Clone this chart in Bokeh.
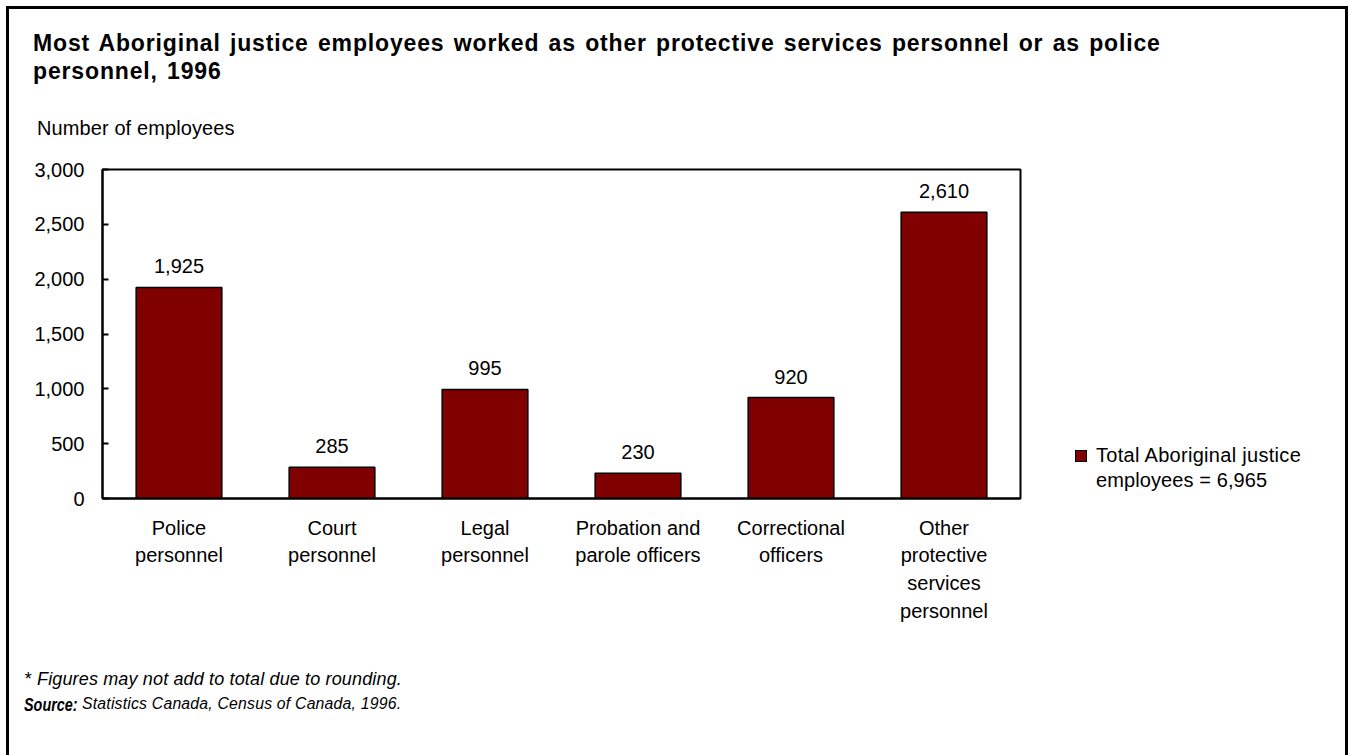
from bokeh.plotting import figure
from bokeh.models import (FactorRange, Range1d, FixedTicker, NumeralTickFormatter,
                          ColumnDataSource, Div)
from bokeh.layouts import column, row
from bokeh.core.properties import value
from bokeh.embed import file_html
from bokeh.resources import INLINE

# ---- data ----
categories = ["Police\npersonnel", "Court\npersonnel", "Legal\npersonnel",
              "Probation and\nparole officers", "Correctional\nofficers",
              "Other\nprotective\nservices\npersonnel"]
employees = [1925, 285, 995, 230, 920, 2610]
y_ticks = [0, 500, 1000, 1500, 2000, 2500, 3000]
legend_lines = ["Total Aboriginal justice", "employees = 6,965"]
title_lines = ["Most Aboriginal justice employees worked as other protective services personnel or as police",
               "personnel, 1996"]
y_title = "Number of employees"
note_text = "Figures may not add to total due to rounding."
source_label = "Source:"
source_text = "Statistics Canada, Census of Canada, 1996."

FONT = "Liberation Sans"
BAR = "#800000"

W = 1349
TOP_H = 145          # height of the heading block
FIG_H = 495          # height of the chart block
BOT_H = 755 - TOP_H - FIG_H
FRAME_TOP, FRAME_BOTTOM = 169, 498   # page y of plot frame
FRAME_LEFT, FRAME_RIGHT = 102, 1020
FIG_W = FRAME_RIGHT + 10
LEG_W = W - FIG_W


def line_div(text, left, center, size, extra=""):
    lh = 28
    return (f'<div style="position:absolute;left:{left}px;top:{center - lh / 2}px;'
            f'height:{lh}px;line-height:{lh}px;font-size:{size}px;white-space:nowrap;{extra}">'
            f'{text}</div>')


base = "font-family:'Liberation Sans',Arial,sans-serif;color:#000;position:relative;"
tstyle = "font-weight:bold;word-spacing:2px;letter-spacing:0.85px;"

top_html = (f'<div style="{base}width:{W}px;height:{TOP_H}px;">'
            + line_div(title_lines[0], 33, 43, 23, tstyle)
            + line_div(title_lines[1], 33, 71, 23, tstyle)
            + line_div(y_title, 37, 128, 20, "letter-spacing:0.1px;")
            + '</div>')

b0 = TOP_H + FIG_H
bot_html = (f'<div style="{base}width:{W}px;height:{BOT_H}px;">'
            + line_div("*", 24, 679 - b0, 18, "font-style:italic;")
            + line_div(note_text, 37, 679 - b0, 18, "font-style:italic;letter-spacing:0.15px;")
            + line_div(f'<span style="display:inline-block;transform:scaleX(0.8);'
                       f'transform-origin:left center;">{source_label}</span>',
                       24, 705 - b0, 18, "font-style:italic;font-weight:bold;")
            + line_div(source_text, 82, 704 - b0, 15.8, "font-style:italic;letter-spacing:0.2px;")
            + '</div>')

leg_html = (f'<div style="{base}width:{LEG_W}px;height:{FIG_H}px;">'
            + f'<div style="position:absolute;left:{1075 - FIG_W}px;top:{450 - TOP_H}px;'
              f'width:12px;height:12px;background:{BAR};border:1px solid #000;"></div>'
            + line_div(legend_lines[0], 1096 - FIG_W, 455 - TOP_H, 20, "letter-spacing:0.3px;")
            + line_div(legend_lines[1], 1096 - FIG_W, 480 - TOP_H, 20, "letter-spacing:0.1px;")
            + '</div>')

top_div = Div(text=top_html, width=W, height=TOP_H, margin=(0, 0, 0, 0))
bot_div = Div(text=bot_html, width=W, height=BOT_H, margin=(0, 0, 0, 0))
leg_div = Div(text=leg_html, width=LEG_W, height=FIG_H, margin=(0, 0, 0, 0))

p = figure(width=FIG_W, height=FIG_H, x_range=FactorRange(factors=categories),
           y_range=Range1d(0, 3000), output_backend="svg", toolbar_location=None,
           min_border_left=FRAME_LEFT, min_border_right=FIG_W - FRAME_RIGHT,
           min_border_top=FRAME_TOP - TOP_H,
           min_border_bottom=TOP_H + FIG_H - FRAME_BOTTOM, margin=(0, 0, 0, 0))
p.background_fill_color = "white"
p.border_fill_alpha = 0
p.outline_line_color = "black"
p.outline_line_width = 2
p.xgrid.visible = False
p.ygrid.visible = False

src = ColumnDataSource(dict(x=categories, top=employees,
                            lab=[f"{v:,}" for v in employees]))
p.vbar(x="x", top="top", width=0.56, source=src, fill_color=BAR,
       line_color="black", line_width=1.5)
p.text(x="x", y="top", text="lab", source=src, text_align="center",
       text_baseline="middle", y_offset=-21, text_font=value(FONT),
       text_font_size="20px", text_color="#000000")

# axes
ya = p.yaxis[0]
ya.ticker = FixedTicker(ticks=y_ticks)
ya.formatter = NumeralTickFormatter(format="0,0")
ya.major_tick_in = 6
ya.major_tick_out = 0
ya.minor_tick_line_color = None
ya.axis_line_width = 2
ya.major_tick_line_width = 2
ya.major_label_standoff = 18
ya.major_label_text_font = FONT
ya.major_label_text_font_size = "20px"
ya.major_label_text_color = "black"

xa = p.xaxis[0]
xa.major_tick_line_color = None
xa.minor_tick_line_color = None
xa.axis_line_width = 2
xa.major_label_standoff = 12
xa.major_label_text_font = FONT
xa.major_label_text_font_size = "20px"
xa.major_label_text_color = "black"
xa.major_label_text_line_height = 1.26

page = column(top_div, row(p, leg_div, spacing=0), bot_div, spacing=0, margin=(0, 0, 0, 0),
              styles={"box-shadow": "inset 6px 6px 0 0 #fff, inset -1px 0 0 0 #fff, "
                                    "inset 9px 9px 0 0 #000, inset -4px 0 0 0 #000",
                      "background-color": "#fff"})

open("out.html", "w").write(file_html(page, INLINE))
